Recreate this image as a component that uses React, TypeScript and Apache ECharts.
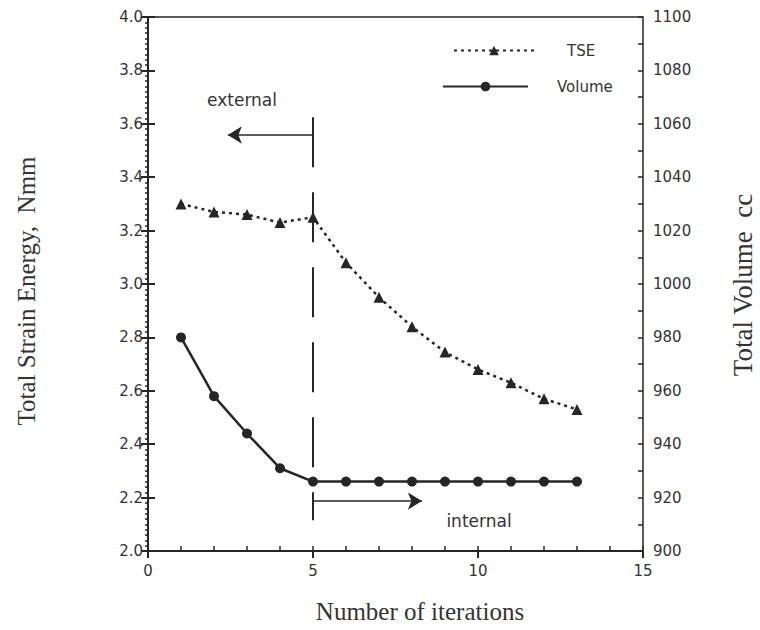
import React, { useEffect, useRef } from "react";
import * as echarts from "echarts";

const iterations = [1, 2, 3, 4, 5, 6, 7, 8, 9, 10, 11, 12, 13];
const tseValues = [3.3, 3.27, 3.26, 3.23, 3.25, 3.08, 2.95, 2.84, 2.745, 2.68, 2.63, 2.57, 2.53];
const volumeValues = [980, 958, 944, 931, 926, 926, 926, 926, 926, 926, 926, 926, 926];
const seriesNames = ["TSE", "Volume"];
const boundaryIteration = 5;

const INK = "#262626";

export default function App() {
  const ref = useRef<HTMLDivElement>(null);
  useEffect(() => {
    if (!ref.current) return;
    const chart = echarts.init(ref.current, undefined, { renderer: "svg" });
    const tickFont = { fontFamily: "DejaVu Sans", fontSize: 15, color: "#333" };
    const serif = "Liberation Serif";
    const minorAxisBase = {
      type: "value",
      splitLine: { show: false },
      axisLine: { show: false },
      axisLabel: { show: false },
    };
    chart.setOption({
      animation: false,
      backgroundColor: "#fff",
      grid: {
        left: 148,
        right: 117,
        top: 17,
        bottom: 79,
        show: true,
        borderColor: INK,
        borderWidth: 1.5,
        backgroundColor: "transparent",
      },
      legend: [
        {
          data: [seriesNames[0]],
          left: 448,
          top: 38,
          itemWidth: 80,
          itemHeight: 12,
          textStyle: { fontFamily: "DejaVu Sans", fontSize: 15, color: "#333", padding: [0, 0, 0, 28] },
          selectedMode: false,
        },
        {
          data: [seriesNames[1]],
          left: 437,
          top: 74,
          itemWidth: 85,
          itemHeight: 12,
          textStyle: { fontFamily: "DejaVu Sans", fontSize: 15, color: "#333", padding: [0, 0, 0, 24] },
          selectedMode: false,
        },
      ],
      xAxis: [
        {
          type: "value",
          min: 0,
          max: 15,
          interval: 5,
          splitLine: { show: false },
          axisLine: { lineStyle: { color: INK, width: 2 } },
          axisTick: { show: true, length: 7, lineStyle: { color: INK, width: 2 } },
          axisLabel: { ...tickFont, margin: 12 },
          z: 3,
        },
        {
          ...minorAxisBase,
          position: "bottom",
          min: 0,
          max: 15,
          interval: 1,
          axisTick: { show: true, inside: true, length: 5, lineStyle: { color: INK, width: 1.5 } },
        },
      ],
      yAxis: [
        {
          type: "value",
          min: 2.0,
          max: 4.0,
          interval: 0.2,
          position: "left",
          splitLine: { show: false },
          axisLine: { show: true, lineStyle: { color: INK, width: 2 } },
          axisTick: { show: true, length: 7, lineStyle: { color: INK, width: 2 } },
          axisLabel: { ...tickFont, margin: 5, formatter: (v: number) => v.toFixed(1) },
          z: 3,
        },
        {
          type: "value",
          min: 900,
          max: 1100,
          interval: 20,
          position: "right",
          splitLine: { show: false },
          axisLine: { show: true, lineStyle: { color: INK, width: 2 } },
          axisTick: { show: true, length: 7, lineStyle: { color: INK, width: 2 } },
          axisLabel: { ...tickFont, margin: 10, formatter: (v: number) => String(v) },
          z: 3,
        },
        {
          ...minorAxisBase,
          position: "left",
          min: 2.0,
          max: 4.0,
          interval: 0.02,
          axisTick: { show: true, inside: false, length: 3, lineStyle: { color: INK, width: 1.5 } },
        },
        {
          ...minorAxisBase,
          position: "right",
          min: 900,
          max: 1100,
          interval: 10,
          axisTick: { show: true, inside: true, length: 5, lineStyle: { color: INK, width: 1.5 } },
        },
      ],
      graphic: [
        {
          type: "text",
          x: 26,
          y: 291,
          rotation: Math.PI / 2,
          style: {
            text: "Total Strain Energy,  Nmm",
            font: `25px "${serif}"`,
            fill: "#333",
            textAlign: "center",
            textVerticalAlign: "middle",
          },
        },
        {
          type: "text",
          x: 743,
          y: 285,
          rotation: Math.PI / 2,
          style: {
            text: "Total Volume  cc",
            font: `27px "${serif}"`,
            fill: "#333",
            textAlign: "center",
            textVerticalAlign: "middle",
          },
        },
        {
          type: "text",
          x: 420,
          y: 611,
          style: {
            text: "Number of iterations",
            font: `25px "${serif}"`,
            fill: "#333",
            textAlign: "center",
            textVerticalAlign: "middle",
          },
        },
        {
          type: "text",
          x: 242,
          y: 100,
          style: {
            text: "external",
            font: `17px "DejaVu Sans"`,
            fill: "#333",
            textAlign: "center",
            textVerticalAlign: "middle",
          },
        },
        {
          type: "text",
          x: 479,
          y: 521,
          style: {
            text: "internal",
            font: `17px "DejaVu Sans"`,
            fill: "#333",
            textAlign: "center",
            textVerticalAlign: "middle",
          },
        },
      ],
      series: [
        {
          name: seriesNames[0],
          type: "line",
          xAxisIndex: 0,
          yAxisIndex: 0,
          data: iterations.map((x, i) => [x, tseValues[i]]),
          symbol: "triangle",
          symbolSize: 11,
          itemStyle: { color: INK },
          lineStyle: { color: INK, width: 2.5, type: [3, 4] },
          markLine: {
            silent: true,
            animation: false,
            label: { show: false },
            symbol: ["none", "none"],
            data: [
              [
                { coord: [boundaryIteration, 3.625], lineStyle: { color: INK, width: 2, type: [50, 25] } },
                { coord: [boundaryIteration, 2.115] },
              ],
              [
                { coord: [boundaryIteration, 3.558], symbol: "none", lineStyle: { color: INK, width: 1.5, type: "solid" } },
                { coord: [2.42, 3.558], symbol: "arrow", symbolSize: [13, 14] },
              ],
              [
                { coord: [boundaryIteration, 2.187], symbol: "none", lineStyle: { color: INK, width: 1.5, type: "solid" } },
                { coord: [8.3, 2.187], symbol: "arrow", symbolSize: [13, 14] },
              ],
            ],
          },
        },
        {
          name: seriesNames[1],
          type: "line",
          xAxisIndex: 0,
          yAxisIndex: 1,
          data: iterations.map((x, i) => [x, volumeValues[i]]),
          symbol: "circle",
          symbolSize: 10,
          itemStyle: { color: INK },
          lineStyle: { color: INK, width: 2.5, type: "solid" },
        },
      ],
    });
    return () => chart.dispose();
  }, []);
  return <div ref={ref} style={{ position: "fixed", left: 0, top: 0, width: 760, height: 630 }} />;
}
